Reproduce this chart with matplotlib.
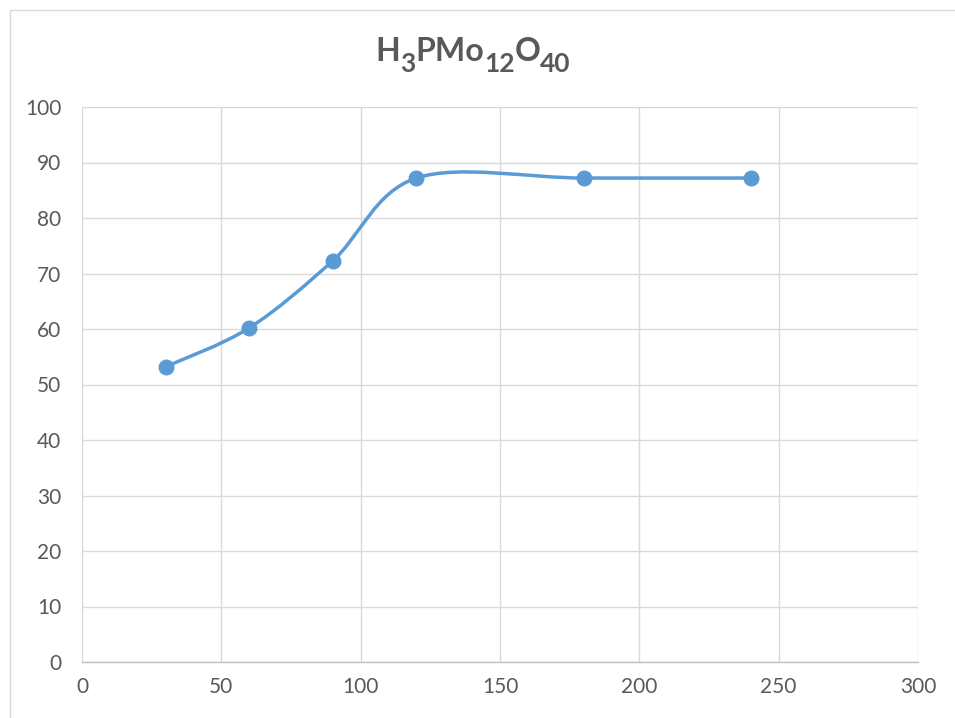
import numpy as np
import matplotlib
matplotlib.use('Agg')
import matplotlib.pyplot as plt
from matplotlib.path import Path
from matplotlib.patches import PathPatch, Rectangle

plt.rcParams['font.family'] = ['Lato', 'DejaVu Sans']

time = [30, 60, 90, 120, 180, 240]
conversion = [53.2, 60.2, 72.3, 87.2, 87.2, 87.2]
x_ticks = [0, 50, 100, 150, 200, 250, 300]
y_ticks = [0, 10, 20, 30, 40, 50, 60, 70, 80, 90, 100]
title_parts = [('H', False), ('3', True), ('PMo', False), ('12', True), ('O', False), ('40', True)]

blue = '#5b9bd5'
grey_txt = '#595959'


def smooth_path(xs, ys):
    # Excel-style smoothing: Catmull-Rom turned into cubic Bezier segments
    pts = np.column_stack([xs, ys]).astype(float)
    n = len(pts)
    verts = [pts[0]]
    codes = [Path.MOVETO]
    for i in range(n - 1):
        p0 = pts[i - 1] if i > 0 else pts[i]
        p1 = pts[i]
        p2 = pts[i + 1]
        p3 = pts[i + 2] if i + 2 < n else pts[i + 1]
        c1 = p1 + (p2 - p0) / 6.0
        c2 = p2 - (p3 - p1) / 6.0
        verts += [c1, c2, p2]
        codes += [Path.CURVE4] * 3
    return Path(verts, codes)


fig = plt.figure(figsize=(9.55, 7.18), dpi=100)
fig.patch.set_facecolor('white')
fig.patches.append(Rectangle((10 / 955, -0.01), 1.0, 1 - 10 / 718 + 0.01,
                             transform=fig.transFigure, fill=False,
                             edgecolor='#d9d9d9', linewidth=1.0))

ax = fig.add_axes([82 / 955, 1 - 662 / 718, (918 - 82) / 955, (662 - 107) / 718])
ax.set_xlim(0, 300)
ax.set_ylim(0, 100)
ax.set_xticks(x_ticks)
ax.set_yticks(y_ticks)
ax.grid(True, color='#d9d9d9', linewidth=1.0)
ax.set_axisbelow(True)
for s in ['top', 'right', 'left']:
    ax.spines[s].set_visible(False)
ax.spines['bottom'].set_color('#bfbfbf')
ax.spines['bottom'].set_linewidth(1.0)
ax.tick_params(length=0, labelsize=15, labelcolor=grey_txt)
ax.tick_params(axis='x', pad=11)
ax.tick_params(axis='y', pad=15)

ax.add_patch(PathPatch(smooth_path(time, conversion), fill=False,
                       edgecolor=blue, linewidth=2.5, capstyle='round', zorder=3))
ax.plot(time, conversion, linestyle='none', marker='o', markersize=10.5,
        color=blue, zorder=4)

# title with subscripts, laid out piece by piece
renderer = fig.canvas.get_renderer()
base_y = 61  # baseline in pixels from top
pieces = []
total_w = 0
for txt, sub in title_parts:
    t = fig.text(0, 0, txt, fontsize=19 if sub else 23, fontweight='bold',
                 color=grey_txt, va='baseline', ha='left')
    w = t.get_window_extent(renderer).width
    pieces.append((t, sub, w))
    total_w += w
x = 473 - total_w / 2
for t, sub, w in pieces:
    y = base_y + (11 if sub else 0)
    t.set_position((x / 955, 1 - y / 718))
    x += w

fig.savefig('out.png', dpi=100)
